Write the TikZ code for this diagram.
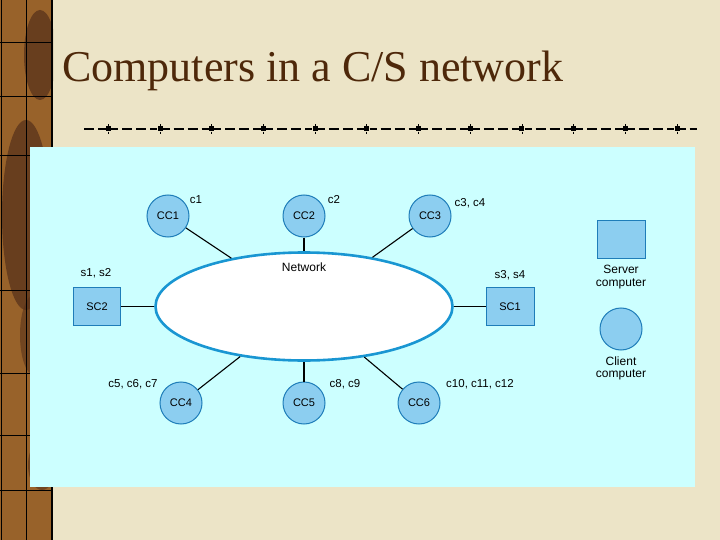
\documentclass[tikz,border=0pt]{standalone}
\usepackage{fontspec}
\setmainfont{Liberation Serif}
\setsansfont{Liberation Sans}
\usetikzlibrary{positioning, shapes.geometric}

\definecolor{slidebeige}{RGB}{236,228,199}
\definecolor{stripbrown}{RGB}{152,98,42}
\definecolor{stripdark}{RGB}{88,50,26}
\definecolor{titlebrown}{RGB}{78,40,10}
\definecolor{panelcyan}{RGB}{204,255,255}
\definecolor{nodeblue}{RGB}{140,206,240}
\definecolor{edgeblue}{RGB}{30,125,185}
\definecolor{netblue}{RGB}{25,150,210}

\begin{document}
\begin{tikzpicture} [x=1pt, y=-1pt, node distance=6pt,
		% define styles
		clientnodestyle/.style={
			% The shape:
			circle,
			% The size:
			minimum size=42pt, inner sep=0pt,
			% The border:
			draw=edgeblue, line width=1pt,
			% The filling:
			fill=nodeblue,
			% Font
			font=\sffamily\fontsize{11}{13}\selectfont
		},
		servernodestyle/.style={
			% The shape:
			rectangle,
			% The size:
			minimum width=47pt, minimum height=38pt, inner sep=0pt,
			% The border:
			draw=edgeblue, line width=1pt,
			% The filling:
			fill=nodeblue,
			% Font
			font=\sffamily\fontsize{11}{13}\selectfont
		},
		networknodestyle/.style={
			% The shape:
			ellipse,
			% The size:
			minimum width=297pt, minimum height=108pt, inner sep=0pt,
			% The border:
			draw=netblue, line width=2.6pt,
			% The filling:
			fill=white
		},
		tagstyle/.style={
			inner sep=0pt,
			text=black,
			align=center,
			% Font
			font=\sffamily\fontsize{11.5}{12.5}\selectfont
		},
		keytextstyle/.style={
			tagstyle,
			% Font
			font=\sffamily\fontsize{12}{12.5}\selectfont
		},
		link/.style={
			% Thickness
			line width=1.1pt,
			% Color
			black
		},
		sepmarkstyle/.style={
			rectangle, fill=black, inner sep=0pt, minimum size=5pt
		},
		sepdashstyle/.style={
			black, line width=1.2pt,
			dash pattern=on 7pt off 4pt on 10pt off 4pt on 10pt off 4pt on 8pt off 9pt
		}]
		% end of style definition

		% slide background
		\useasboundingbox (0,0) rectangle (720,540);
		\fill [slidebeige] (0,0) rectangle (720,540);
		\begin{scope}
			\clip (0,0) rectangle (53,540);
			\fill [stripbrown] (0,0) rectangle (53,540);
			\fill [stripdark, opacity=0.75] (40,55) ellipse (16 and 45);
			\fill [stripdark, opacity=0.75] (26,215) ellipse (24 and 95);
			\fill [stripdark, opacity=0.6] (34,335) ellipse (14 and 40);
			\fill [stripdark, opacity=0.6] (42,465) ellipse (14 and 25);
		\end{scope}
		\draw [black, line width=0.8pt] (26,0) -- (26,540);
		\foreach \y in {42,96,155,290,373,435,490}
			\draw [black, line width=0.8pt] (0,\y) -- (53,\y);
		\draw [black, line width=1.6pt] (1.5,0) -- (1.5,540);
		\draw [black, line width=1.6pt] (52,0) -- (52,540);

		% title and separator
		\node (iTitle) [anchor=base west, inner sep=0pt, text=titlebrown,
			font=\fontsize{44}{50}\selectfont] at (62,82) {Computers in a C/S network};
		\coordinate (sepstart) at (84,129);
		\coordinate (sepend) at (697,129);
		\foreach \k in {0,...,11}
			\node (sq\k) [sepmarkstyle] at (108.3+51.7*\k,129) {};
		\foreach \k [evaluate=\k as \n using int(\k+1)] in {0,...,10}
			\draw [sepdashstyle] (sq\k) -- (sq\n);
		\draw [black, line width=1.2pt, dash pattern=on 10pt off 4pt] (sepstart) -- (sq0);
		\draw [black, line width=1.2pt, dash pattern=on 6pt off 4pt on 10pt off 4pt] (sq11) -- (sepend);
		\foreach \k in {0,...,11} {
			\draw [black, line width=0.7pt] (sq\k.north) -- ++(0,-2.5);
			\draw [black, line width=0.7pt] (sq\k.south) -- ++(0,2.5);
		}

		% panel
		\fill [panelcyan] (30,147) rectangle (695,487);

		% draw nodes
		\node (iNet) [networknodestyle] at (304,306.5) {};
		\node (iNetLabel) [keytextstyle, below=11pt of iNet.north] {Network};

		\node (iCC1) [clientnodestyle] at (168,216) {CC1};
		\node (iCC2) [clientnodestyle] at (304,216) {CC2};
		\node (iCC3) [clientnodestyle] at (430,216) {CC3};
		\node (iCC4) [clientnodestyle] at (181,403) {CC4};
		\node (iCC5) [clientnodestyle] at (304,403) {CC5};
		\node (iCC6) [clientnodestyle] at (419,403) {CC6};
		\node (iSC2) [servernodestyle] at (97,306.5) {SC2};
		\node (iSC1) [servernodestyle, minimum width=48pt] at (510,306.5) {SC1};

		\node (iTag1) [tagstyle] at (196,200) {c1};
		\node (iTag2) [tagstyle] at (334,200) {c2};
		\node (iTag3) [tagstyle] at (470,203) {c3, c4};
		\node (iTag4) [tagstyle] at (133,384) {c5, c6, c7};
		\node (iTag5) [tagstyle] at (345,384) {c8, c9};
		\node (iTag6) [tagstyle] at (480,384) {c10, c11, c12};
		\node (iTagS2) [tagstyle] at (96,273) {s1, s2};
		\node (iTagS1) [tagstyle] at (510,275) {s3, s4};

		% legend
		\node (iServerKey) [servernodestyle, minimum width=48pt] at (621,239.5) {};
		\node (iServerText) [keytextstyle, below=6pt of iServerKey] {Server\\computer};
		\node (iClientKey) [clientnodestyle] at (621,329) {};
		\node (iClientText) [keytextstyle, below=6pt of iClientKey] {Client\\computer};

		% connect nodes
		\draw [link] (iCC1) -- (iNet);
		\draw [link] (iCC2) -- (iNet);
		\draw [link] (iCC3) -- (iNet);
		\draw [link] (iCC4) -- (iNet);
		\draw [link] (iCC5) -- (iNet);
		\draw [link] (iCC6) -- (iNet);
		\draw [link] (iSC2) -- (iNet);
		\draw [link] (iSC1) -- (iNet);
	\end{tikzpicture}
\end{document}
